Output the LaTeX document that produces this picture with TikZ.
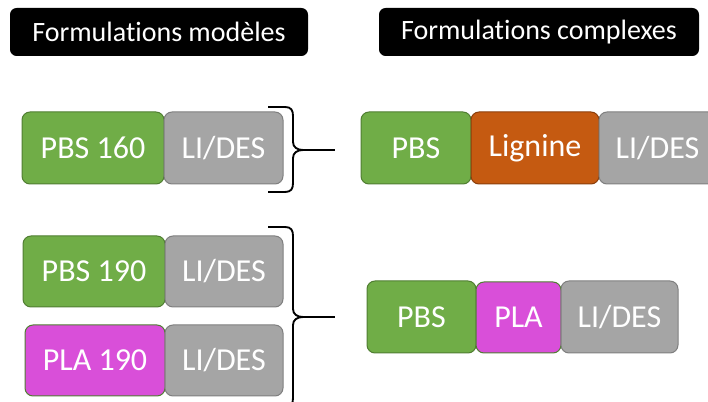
\documentclass[tikz,border=0pt]{standalone}
\usepackage{fontspec}
\setmainfont{Carlito}[Ligatures=NoCommon]
\definecolor{gfill}{HTML}{70AD47}
\definecolor{gline}{HTML}{507E32}
\definecolor{grfill}{HTML}{A5A5A5}
\definecolor{grline}{HTML}{7F7F7F}
\definecolor{ofill}{HTML}{C55A11}
\definecolor{oline}{HTML}{8B3F0C}
\definecolor{pfill}{HTML}{D94FD9}
\begin{document}
\begin{tikzpicture}[x=0.75pt,y=-0.75pt,
  blk/.style={rectangle,rounded corners=6pt,inner sep=0pt,line width=0.75pt,
    text=white,font=\fontsize{24}{28}\selectfont,minimum height=54pt},
  green/.style={blk,fill=gfill,draw=gline},
  grey/.style={blk,fill=grfill,draw=grline},
  orange/.style={blk,fill=ofill,draw=oline},
  pink/.style={blk,fill=pfill,draw=gline},
  title/.style={rectangle,rounded corners=5pt,fill=black,text=white,inner sep=0pt,
    minimum height=36pt,font=\fontsize{21}{24}\selectfont},
  brace/.style={line width=1.4pt,black}]
\useasboundingbox (0,0) rectangle (708,402);
\clip (0,0) rectangle (708,402);
% titles
\node[title,minimum width=223.5pt] (t1) at (159,32) {Formulations modèles};
\node[title,minimum width=240pt] (t2) at (539,32) {Formulations complexes};
% row 1 left
\node[green,minimum width=106.5pt] (a1) at (93,148) {PBS 160};
\node[grey,minimum width=89.25pt] (a2) at (223.5,148) {LI/DES};
% row 1 right
\node[green,minimum width=82.5pt] (b1) at (416,148) {PBS};
\node[orange,minimum width=96pt] (b2) at (535,148) {Lignine};
\node[grey,minimum width=87.75pt] (b3) at (657.5,148) {LI/DES};
% row 2 left
\node[green,minimum width=106.5pt,minimum height=53.25pt] (c1) at (94,271.5) {PBS 190};
\node[grey,minimum width=88.5pt,minimum height=53.25pt] (c2) at (224,271.5) {LI/DES};
\node[pink,minimum width=105pt,minimum height=53.25pt] (d1) at (95,360.5) {PLA 190};
\node[grey,minimum width=88.5pt,minimum height=53.25pt] (d2) at (224,360.5) {LI/DES};
% row 2 right
\node[green,minimum width=81.75pt] (e1) at (421.5,317) {PBS};
\node[pink,minimum width=63.75pt,minimum height=53.25pt] (e2) at (518.5,317.5) {PLA};
\node[grey,minimum width=87.75pt] (e3) at (619.5,317) {LI/DES};
% brace 1
\coordinate (k1) at (303,150);
\coordinate (k1e) at (335,150);
\draw[brace] (268,107) -- (285,107) .. controls (291,107) and (293,110) .. (293,116)
  -- (293,142) .. controls (293,147) and (297,150) .. (k1)
  .. controls (297,150) and (293,153) .. (293,158)
  -- (293,183) .. controls (293,189) and (291,192) .. (285,192) -- (268,192);
\draw[brace] (k1) -- (k1e);
% brace 2
\coordinate (k2) at (303,317);
\coordinate (k2e) at (335,317);
\draw[brace] (268,227) -- (285,227) .. controls (291,227) and (293,230) .. (293,236)
  -- (293,309) .. controls (293,314) and (297,317) .. (k2)
  .. controls (297,317) and (293,320) .. (293,325)
  -- (293,398) .. controls (293,404) and (291,407) .. (285,407) -- (268,407);
\draw[brace] (k2) -- (k2e);
\end{tikzpicture}
\end{document}
